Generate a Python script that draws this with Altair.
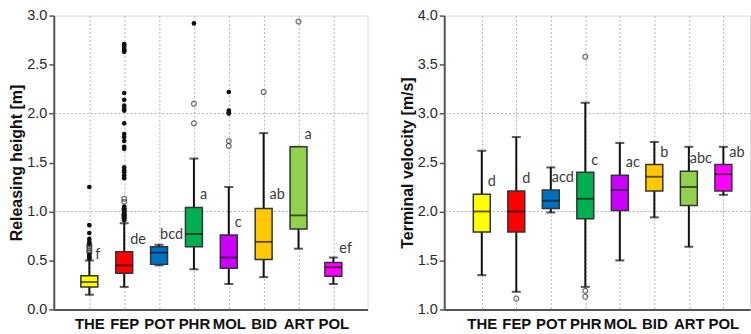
import altair as alt
import pandas as pd

# Species codes in plotting order and their box colours
species = ["THE", "FEP", "POT", "PHR", "MOL", "BID", "ART", "POL"]
box_colors = ["#FFFF00", "#FF0000", "#0070C0", "#00B050",
              "#CC00FF", "#FFC800", "#92D050", "#FF00FF"]

# Releasing height [m]: box-plot summaries
rh_low = [0.15, 0.23, 0.45, 0.41, 0.26, 0.33, 0.62, 0.26]
rh_q1 = [0.23, 0.37, 0.46, 0.64, 0.42, 0.51, 0.82, 0.34]
rh_med = [0.28, 0.45, 0.58, 0.77, 0.53, 0.69, 0.96, 0.43]
rh_q3 = [0.345, 0.59, 0.64, 1.04, 0.76, 1.03, 1.66, 0.48]
rh_high = [0.50, 0.88, 0.66, 1.54, 1.25, 1.80, 1.66, 0.53]
rh_letters = ["f", "de", "bcd", "a", "c", "ab", "a", "ef"]
rh_letter_at = [0.56, 0.71, 0.76, 1.17, 0.88, 1.17, 1.78, 0.62]

# Releasing height outliers: (species, value) — mild (open) and extreme (filled)
rh_open = [("THE", 0.66), ("THE", 0.64), ("THE", 0.62), ("THE", 0.60), ("THE", 0.58),
           ("FEP", 1.13), ("FEP", 1.10), ("FEP", 1.02), ("FEP", 0.97), ("FEP", 0.94),
           ("PHR", 2.10), ("PHR", 1.90),
           ("MOL", 1.72), ("MOL", 1.67),
           ("BID", 2.22),
           ("ART", 2.94)]
rh_filled = [("THE", 1.25), ("THE", 0.86), ("THE", 0.78), ("THE", 0.72), ("THE", 0.69),
             ("THE", 0.67), ("THE", 0.56), ("THE", 0.54), ("THE", 0.53), ("THE", 0.52),
             ("FEP", 2.71), ("FEP", 2.70), ("FEP", 2.68), ("FEP", 2.66), ("FEP", 2.64),
             ("FEP", 2.63), ("FEP", 2.21), ("FEP", 2.14), ("FEP", 2.08), ("FEP", 2.05),
             ("FEP", 2.03), ("FEP", 1.90), ("FEP", 1.79), ("FEP", 1.76), ("FEP", 1.72),
             ("FEP", 1.66), ("FEP", 1.64), ("FEP", 1.45), ("FEP", 1.42), ("FEP", 1.40),
             ("FEP", 1.37), ("FEP", 1.34), ("FEP", 1.05), ("FEP", 1.03), ("FEP", 1.00),
             ("FEP", 0.98), ("FEP", 0.96), ("FEP", 0.93), ("FEP", 0.91),
             ("PHR", 2.92),
             ("MOL", 2.22), ("MOL", 2.03), ("MOL", 2.01), ("MOL", 2.00)]

# Terminal velocity [m/s]: box-plot summaries
tv_low = [1.35, 1.18, 1.99, 1.23, 1.50, 1.94, 1.64, 2.17]
tv_q1 = [1.79, 1.79, 2.03, 1.925, 2.01, 2.21, 2.06, 2.21]
tv_med = [2.00, 2.00, 2.11, 2.13, 2.22, 2.355, 2.25, 2.38]
tv_q3 = [2.175, 2.21, 2.22, 2.40, 2.37, 2.48, 2.41, 2.48]
tv_high = [2.62, 2.76, 2.45, 3.11, 2.70, 2.71, 2.66, 2.66]
tv_letters = ["d", "d", "acd", "c", "ac", "b", "abc", "ab"]
tv_letter_at = [2.30, 2.33, 2.34, 2.52, 2.49, 2.60, 2.54, 2.60]
tv_open = [("FEP", 1.11), ("PHR", 3.58), ("PHR", 1.19), ("PHR", 1.13)]
tv_filled = []

AXIS_GRAY = "#555555"
GRID_GRAY = "#b4b4b4"
LABEL_FONT = "Liberation Sans"


def panel(low, q1, med, q3, high, letters, letter_at, opens, filleds,
          y_title, y_min, y_max, grid_at, width, pad, align):
    stats = pd.DataFrame({"sp": species, "low": low, "q1": q1, "med": med,
                          "q3": q3, "high": high, "letter": letters,
                          "letter_at": letter_at})
    out_open = pd.DataFrame(opens, columns=["sp", "v"])
    out_filled = pd.DataFrame(filleds, columns=["sp", "v"])
    hgrid = pd.DataFrame({"g": grid_at})

    ticks = [round(y_min + 0.5 * i, 1) for i in range(int((y_max - y_min) / 0.5) + 1)]
    yscale = alt.Scale(domain=[y_min, y_max], nice=False, zero=False)
    x = alt.X("sp:N", sort=species,
              scale=alt.Scale(type="point", padding=pad, align=align),
              axis=alt.Axis(title=None, ticks=False, grid=True,
                            gridDash=[2, 2], gridColor=GRID_GRAY, gridWidth=1,
                            labelFont=LABEL_FONT, labelFontSize=15,
                            labelFontWeight="bold", labelColor="#111111",
                            labelPadding=7, labelAngle=0, labelOverlap=False,
                            domainColor=AXIS_GRAY, domainWidth=2))
    y_axis = alt.Axis(title=y_title, values=ticks, format=".1f", grid=False,
                      labelFont=LABEL_FONT, labelFontSize=14.5, labelColor="#2a2a2a",
                      labelPadding=2, tickSize=5, tickColor=AXIS_GRAY, tickWidth=1.5,
                      domainColor=AXIS_GRAY, domainWidth=2,
                      titleFont=LABEL_FONT, titleFontSize=16, titleFontWeight="bold",
                      titleColor="#111111", titlePadding=2)
    fill = alt.Fill("sp:N", scale=alt.Scale(domain=species, range=box_colors),
                    legend=None)

    grid = alt.Chart(hgrid).mark_rule(color=GRID_GRAY, strokeDash=[2, 2],
                                      strokeWidth=1).encode(
        y=alt.Y("g:Q", scale=yscale, axis=y_axis))

    base = alt.Chart(stats).encode(x=x)
    whisker = base.mark_rule(color="#111111", strokeWidth=2).encode(
        y=alt.Y("low:Q", scale=yscale), y2="high:Q")
    cap_low = base.mark_tick(color="#111111", size=9, thickness=2).encode(
        y=alt.Y("low:Q", scale=yscale))
    cap_high = base.mark_tick(color="#111111", size=9, thickness=2).encode(
        y=alt.Y("high:Q", scale=yscale))
    box = base.mark_bar(size=17, stroke="#333333", strokeWidth=1.5).encode(
        y=alt.Y("q1:Q", scale=yscale), y2="q3:Q", fill=fill)
    median = base.mark_tick(color="#111111", size=17, thickness=1.8).encode(
        y=alt.Y("med:Q", scale=yscale))

    # Group letters: short ones sit just right of the box, three-letter ones
    # start nearer the box centre so they stay clear of the neighbouring box.
    text_style = dict(align="left", baseline="middle", font="Lato",
                      fontSize=14.5, color="#3a3a3a")
    letter_short = base.transform_filter("length(datum.letter) < 3").mark_text(
        dx=6, **text_style).encode(
        y=alt.Y("letter_at:Q", scale=yscale), text="letter:N")
    letter_long = base.transform_filter("length(datum.letter) >= 3").mark_text(
        dx=1, **text_style).encode(
        y=alt.Y("letter_at:Q", scale=yscale), text="letter:N")

    layers = [grid, whisker, cap_low, cap_high, box, median]
    if len(out_open):
        layers.append(alt.Chart(out_open).mark_point(
            shape="circle", filled=False, size=24, strokeWidth=1.2,
            color="#333333").encode(x=x, y=alt.Y("v:Q", scale=yscale)))
    if len(out_filled):
        layers.append(alt.Chart(out_filled).mark_point(
            shape="circle", filled=True, size=22, opacity=1,
            color="#111111").encode(x=x, y=alt.Y("v:Q", scale=yscale)))
    layers += [letter_short, letter_long]

    return alt.layer(*layers).properties(width=width, height=295)


left = panel(rh_low, rh_q1, rh_med, rh_q3, rh_high, rh_letters, rh_letter_at,
             rh_open, rh_filled, "Releasing height [m]", 0.0, 3.0, [1.0, 2.0],
             width=315, pad=1.04, align=0.51)
right = panel(tv_low, tv_q1, tv_med, tv_q3, tv_high, tv_letters, tv_letter_at,
              tv_open, tv_filled, "Terminal velocity [m/s]", 1.0, 4.0, [2.0, 3.0],
              width=307, pad=0.93, align=0.585)

chart = alt.hconcat(left, right, spacing=30).properties(
    padding={"left": 8, "top": 6, "right": 0, "bottom": 0}
).configure_view(stroke=AXIS_GRAY, strokeWidth=1.5).configure(background="white")

chart.save("out.html", embed_options={"renderer": "svg", "actions": False})
